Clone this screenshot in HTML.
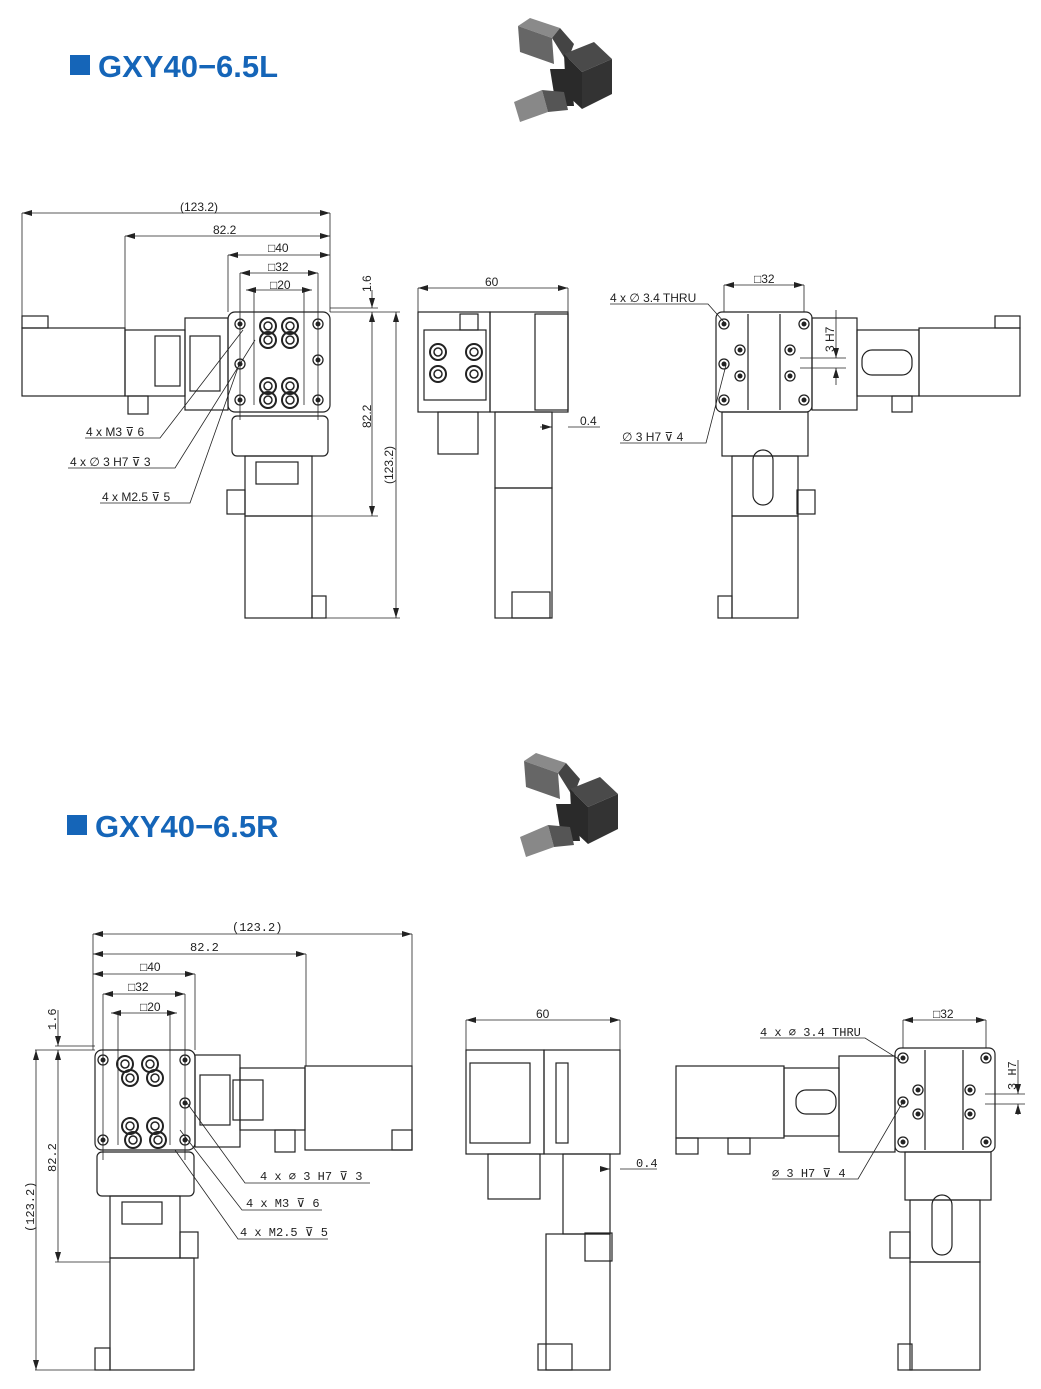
<!DOCTYPE html>
<html><head><meta charset="utf-8"><style>
html,body{margin:0;padding:0;background:#fff}
svg{display:block}
text{font-family:"Liberation Sans","DejaVu Sans",sans-serif;fill:#222}
.t{font-size:12px}
.h{font-size:31px;font-weight:bold;fill:#1565b8}
.m{font-family:"Liberation Mono","DejaVu Sans Mono",monospace;font-size:12px}
</style></head><body>
<svg width="1041" height="1389" viewBox="0 0 1041 1389" xmlns="http://www.w3.org/2000/svg">
<defs>
<marker id="a" markerWidth="10" markerHeight="6" refX="10" refY="3" orient="auto-start-reverse" markerUnits="userSpaceOnUse"><path d="M0,0 L10,3 L0,6z" fill="#222"/></marker>
<g id="hole"><circle r="5" fill="none" stroke="#222" stroke-width="1.3"/><circle r="2.5" fill="#222"/></g>
<g id="big"><circle r="8" fill="none" stroke="#222" stroke-width="2"/><circle r="4" fill="none" stroke="#222" stroke-width="1.5"/></g>
<g id="prod">
<polygon points="6,12 18,4 48,14 40,24" fill="#8a8a8a"/>
<polygon points="6,12 40,24 42,50 8,38" fill="#666"/>
<polygon points="40,24 48,14 62,30 55,48" fill="#444"/>
<polygon points="52,40 82,28 100,45 70,58" fill="#4a4a4a"/>
<polygon points="52,40 70,58 70,95 54,80" fill="#2a2a2a"/>
<polygon points="70,58 100,45 100,80 70,95" fill="#333"/>
<polygon points="38,55 58,55 62,92 44,92" fill="#2a2a2a"/>
<polygon points="2,88 30,76 36,98 8,108" fill="#888"/>
<polygon points="30,76 52,78 56,96 36,98" fill="#555"/>
</g>
</defs>

<!-- headers -->
<rect x="70" y="55" width="20" height="20" fill="#1565b8"/>
<text class="h" x="98" y="77">GXY40−6.5L</text>
<rect x="67" y="815" width="20" height="20" fill="#1565b8"/>
<text class="h" x="95" y="837">GXY40−6.5R</text>
<use href="#prod" x="512" y="14"/>
<use href="#prod" x="518" y="749"/>

<g fill="none" stroke="#222" stroke-width="1.2">
<!-- ===== TOP LEFT VIEW ===== -->
<rect x="22" y="328" width="103" height="68"/><rect x="22" y="316" width="26" height="12"/>
<rect x="125" y="330" width="60" height="66"/><rect x="155" y="336" width="25" height="50"/>
<rect x="128" y="396" width="20" height="18"/>
<rect x="185" y="318" width="43" height="92"/><rect x="190" y="336" width="30" height="55"/>
<rect x="228" y="312" width="102" height="100" rx="7"/>
<rect x="232" y="416" width="96" height="40" rx="5"/>
<rect x="245" y="456" width="67" height="60"/><rect x="256" y="462" width="42" height="22"/>
<rect x="227" y="490" width="18" height="24"/>
<rect x="245" y="516" width="67" height="102"/><rect x="312" y="596" width="14" height="22"/>
<g stroke-width="0.8">
<line x1="22" y1="213" x2="22" y2="318"/><line x1="330" y1="213" x2="330" y2="312"/>
<line x1="22" y1="213" x2="330" y2="213" marker-start="url(#a)" marker-end="url(#a)"/>
<line x1="125" y1="236" x2="125" y2="330"/>
<line x1="125" y1="236" x2="330" y2="236" marker-start="url(#a)" marker-end="url(#a)"/>
<line x1="228" y1="255" x2="330" y2="255" marker-start="url(#a)" marker-end="url(#a)"/>
<line x1="228" y1="255" x2="228" y2="312"/>
<line x1="240" y1="273" x2="318" y2="273" marker-start="url(#a)" marker-end="url(#a)"/>
<line x1="240" y1="273" x2="240" y2="420"/><line x1="318" y1="273" x2="318" y2="420"/>
<line x1="246" y1="290" x2="312" y2="290" marker-start="url(#a)" marker-end="url(#a)"/>
<line x1="254" y1="290" x2="254" y2="405"/><line x1="304" y1="290" x2="304" y2="405"/>
<line x1="330" y1="308" x2="378" y2="308"/><line x1="330" y1="312" x2="400" y2="312"/>
<line x1="372" y1="290" x2="372" y2="308" marker-end="url(#a)"/>
<line x1="372" y1="312" x2="372" y2="516" marker-start="url(#a)" marker-end="url(#a)"/>
<line x1="312" y1="516" x2="378" y2="516"/><line x1="326" y1="618" x2="400" y2="618"/>
<line x1="396" y1="312" x2="396" y2="618" marker-start="url(#a)" marker-end="url(#a)"/>
<polyline points="85,438 160,438 243,330"/>
<polyline points="68,468 175,468 255,340"/>
<polyline points="100,503 190,503 240,362"/>
</g>
<!-- ===== TOP MIDDLE VIEW ===== -->
<rect x="418" y="312" width="72" height="100"/><rect x="424" y="330" width="62" height="70"/>
<rect x="460" y="314" width="18" height="16"/>
<rect x="490" y="312" width="78" height="100"/><rect x="535" y="314" width="33" height="96"/>
<rect x="438" y="412" width="40" height="42"/>
<rect x="495" y="412" width="57" height="76"/><rect x="495" y="488" width="57" height="130"/>
<rect x="512" y="592" width="38" height="26"/>
<g stroke-width="0.8">
<line x1="418" y1="288" x2="418" y2="312"/><line x1="568" y1="288" x2="568" y2="312"/>
<line x1="418" y1="288" x2="568" y2="288" marker-start="url(#a)" marker-end="url(#a)"/>
<line x1="540" y1="427" x2="552" y2="427" marker-end="url(#a)"/><line x1="568" y1="427" x2="600" y2="427"/>
</g>
<!-- ===== TOP RIGHT VIEW ===== -->
<rect x="716" y="312" width="96" height="100" rx="6"/>
<line x1="748" y1="314" x2="748" y2="410"/><line x1="780" y1="314" x2="780" y2="410"/>
<rect x="812" y="318" width="45" height="92"/><rect x="857" y="330" width="62" height="66"/>
<rect x="862" y="350" width="50" height="25" rx="10"/>
<rect x="919" y="328" width="101" height="68"/><rect x="995" y="316" width="25" height="12"/>
<rect x="892" y="396" width="20" height="16"/>
<rect x="722" y="412" width="86" height="44"/><rect x="732" y="456" width="66" height="60"/>
<rect x="753" y="450" width="20" height="55" rx="10"/>
<rect x="797" y="490" width="18" height="24"/>
<rect x="732" y="516" width="66" height="102"/><rect x="718" y="596" width="14" height="22"/>
<g stroke-width="0.8">
<line x1="724" y1="285" x2="804" y2="285" marker-start="url(#a)" marker-end="url(#a)"/>
<line x1="724" y1="285" x2="724" y2="312"/><line x1="804" y1="285" x2="804" y2="312"/>
<polyline points="610,304 708,304 724,322"/>
<polyline points="620,443 706,443 726,365"/>
<line x1="836" y1="310" x2="836" y2="358" marker-end="url(#a)"/>
<line x1="836" y1="368" x2="836" y2="385" marker-start="url(#a)"/>
<line x1="800" y1="358" x2="846" y2="358"/><line x1="800" y1="368" x2="846" y2="368"/>
</g>

<!-- ===== BOTTOM LEFT VIEW ===== -->
<rect x="95" y="1050" width="100" height="100" rx="7"/>
<rect x="195" y="1055" width="45" height="92"/><rect x="200" y="1075" width="30" height="50"/>
<rect x="240" y="1068" width="65" height="62"/><rect x="233" y="1080" width="30" height="40"/>
<rect x="305" y="1066" width="107" height="84"/><rect x="392" y="1130" width="20" height="20"/>
<rect x="275" y="1130" width="20" height="22"/>
<rect x="97" y="1152" width="97" height="44" rx="5"/>
<rect x="110" y="1196" width="70" height="62"/><rect x="122" y="1202" width="40" height="22"/>
<rect x="180" y="1232" width="18" height="26"/>
<rect x="110" y="1258" width="84" height="112"/><rect x="95" y="1348" width="15" height="22"/>
<g stroke-width="0.8">
<line x1="93" y1="934" x2="412" y2="934" marker-start="url(#a)" marker-end="url(#a)"/>
<line x1="93" y1="934" x2="93" y2="1050"/><line x1="412" y1="934" x2="412" y2="1066"/>
<line x1="93" y1="954" x2="306" y2="954" marker-start="url(#a)" marker-end="url(#a)"/>
<line x1="306" y1="954" x2="306" y2="1066"/>
<line x1="93" y1="974" x2="195" y2="974" marker-start="url(#a)" marker-end="url(#a)"/>
<line x1="195" y1="974" x2="195" y2="1050"/>
<line x1="103" y1="994" x2="185" y2="994" marker-start="url(#a)" marker-end="url(#a)"/>
<line x1="103" y1="994" x2="103" y2="1160"/><line x1="185" y1="994" x2="185" y2="1160"/>
<line x1="111" y1="1013" x2="177" y2="1013" marker-start="url(#a)" marker-end="url(#a)"/>
<line x1="118" y1="1013" x2="118" y2="1145"/><line x1="170" y1="1013" x2="170" y2="1145"/>
<line x1="55" y1="1046" x2="95" y2="1046"/><line x1="35" y1="1050" x2="95" y2="1050"/>
<line x1="58" y1="1010" x2="58" y2="1046" marker-end="url(#a)"/>
<line x1="58" y1="1050" x2="58" y2="1262" marker-start="url(#a)" marker-end="url(#a)"/>
<line x1="55" y1="1262" x2="110" y2="1262"/><line x1="35" y1="1370" x2="95" y2="1370"/>
<line x1="36" y1="1050" x2="36" y2="1370" marker-start="url(#a)" marker-end="url(#a)"/>
<polyline points="370,1183 245,1183 187,1103"/>
<polyline points="322,1210 242,1210 180,1130"/>
<polyline points="328,1239 238,1239 175,1150"/>
</g>
<!-- ===== BOTTOM MIDDLE VIEW ===== -->
<rect x="466" y="1050" width="78" height="104"/><rect x="470" y="1063" width="60" height="80"/>
<rect x="544" y="1050" width="76" height="104"/><rect x="556" y="1063" width="12" height="80"/>
<rect x="488" y="1154" width="52" height="45"/>
<rect x="563" y="1154" width="47" height="80"/><rect x="546" y="1234" width="64" height="136"/>
<rect x="585" y="1233" width="27" height="28"/><rect x="538" y="1344" width="34" height="26"/>
<g stroke-width="0.8">
<line x1="466" y1="1020" x2="620" y2="1020" marker-start="url(#a)" marker-end="url(#a)"/>
<line x1="466" y1="1020" x2="466" y2="1050"/><line x1="620" y1="1020" x2="620" y2="1050"/>
<line x1="600" y1="1169" x2="610" y2="1169" marker-end="url(#a)"/><line x1="620" y1="1169" x2="657" y2="1169"/>
</g>
<!-- ===== BOTTOM RIGHT VIEW ===== -->
<rect x="676" y="1066" width="108" height="72"/><rect x="676" y="1138" width="22" height="16"/>
<rect x="784" y="1068" width="55" height="68"/><rect x="728" y="1138" width="22" height="16"/>
<rect x="796" y="1090" width="40" height="24" rx="10"/>
<rect x="839" y="1056" width="56" height="96"/>
<rect x="895" y="1048" width="100" height="104" rx="6"/>
<line x1="925" y1="1050" x2="925" y2="1150"/><line x1="963" y1="1050" x2="963" y2="1150"/>
<rect x="905" y="1152" width="86" height="48"/><rect x="910" y="1200" width="70" height="62"/>
<rect x="932" y="1195" width="20" height="60" rx="10"/>
<rect x="890" y="1232" width="20" height="26"/>
<rect x="910" y="1262" width="70" height="108"/><rect x="898" y="1344" width="14" height="26"/>
<g stroke-width="0.8">
<line x1="903" y1="1020" x2="986" y2="1020" marker-start="url(#a)" marker-end="url(#a)"/>
<line x1="903" y1="1020" x2="903" y2="1048"/><line x1="986" y1="1020" x2="986" y2="1048"/>
<polyline points="760,1038 865,1038 900,1060"/>
<polyline points="772,1179 858,1179 904,1100"/>
<line x1="1018" y1="1060" x2="1018" y2="1094" marker-end="url(#a)"/>
<line x1="1018" y1="1104" x2="1018" y2="1115" marker-start="url(#a)"/>
<line x1="985" y1="1094" x2="1025" y2="1094"/><line x1="985" y1="1104" x2="1025" y2="1104"/>
</g>
</g>

<!-- holes -->
<use href="#hole" x="240" y="324"/><use href="#hole" x="318" y="324"/><use href="#hole" x="240" y="400"/><use href="#hole" x="318" y="400"/>
<use href="#hole" x="240" y="364"/><use href="#hole" x="318" y="360"/>
<use href="#big" x="268" y="326"/><use href="#big" x="290" y="326"/><use href="#big" x="268" y="340"/><use href="#big" x="290" y="340"/>
<use href="#big" x="268" y="386"/><use href="#big" x="290" y="386"/><use href="#big" x="268" y="400"/><use href="#big" x="290" y="400"/>
<use href="#big" x="438" y="352"/><use href="#big" x="438" y="374"/><use href="#big" x="474" y="352"/><use href="#big" x="474" y="374"/>
<use href="#hole" x="724" y="324"/><use href="#hole" x="804" y="324"/><use href="#hole" x="724" y="400"/><use href="#hole" x="804" y="400"/>
<use href="#hole" x="740" y="350"/><use href="#hole" x="740" y="376"/><use href="#hole" x="790" y="350"/><use href="#hole" x="790" y="376"/><use href="#hole" x="724" y="364"/>
<use href="#hole" x="103" y="1060"/><use href="#hole" x="185" y="1060"/><use href="#hole" x="103" y="1140"/><use href="#hole" x="185" y="1140"/><use href="#hole" x="185" y="1103"/>
<use href="#big" x="125" y="1064"/><use href="#big" x="150" y="1064"/><use href="#big" x="130" y="1078"/><use href="#big" x="155" y="1078"/>
<use href="#big" x="130" y="1126"/><use href="#big" x="155" y="1126"/><use href="#big" x="133" y="1140"/><use href="#big" x="158" y="1140"/>
<use href="#hole" x="903" y="1058"/><use href="#hole" x="986" y="1058"/><use href="#hole" x="903" y="1142"/><use href="#hole" x="986" y="1142"/>
<use href="#hole" x="918" y="1090"/><use href="#hole" x="918" y="1114"/><use href="#hole" x="970" y="1090"/><use href="#hole" x="970" y="1114"/><use href="#hole" x="903" y="1102"/>

<!-- labels -->
<text class="t" x="180" y="211">(123.2)</text>
<text class="t" x="213" y="234">82.2</text>
<text class="t" x="268" y="252">□40</text>
<text class="t" x="268" y="271">□32</text>
<text class="t" x="270" y="289">□20</text>
<text class="t" transform="translate(371,292) rotate(-90)">1.6</text>
<text class="t" transform="translate(371,428) rotate(-90)">82.2</text>
<text class="t" transform="translate(393,484) rotate(-90)">(123.2)</text>
<text class="t" x="86" y="436">4 x M3 ⊽ 6</text>
<text class="t" x="70" y="466">4 x ∅ 3 H7 ⊽ 3</text>
<text class="t" x="102" y="501">4 x M2.5 ⊽ 5</text>
<text class="t" x="485" y="286">60</text>
<text class="t" x="580" y="425">0.4</text>
<text class="t" x="754" y="283">□32</text>
<text class="t" x="610" y="302">4 x ∅ 3.4 THRU</text>
<text class="t" x="622" y="441">∅ 3 H7 ⊽ 4</text>
<text class="t" transform="translate(834,352) rotate(-90)">3 H7</text>

<text class="m" x="232" y="931">(123.2)</text>
<text class="m" x="190" y="951">82.2</text>
<text class="t" x="140" y="971">□40</text>
<text class="t" x="128" y="991">□32</text>
<text class="t" x="140" y="1011">□20</text>
<text class="m" transform="translate(56,1030) rotate(-90)">1.6</text>
<text class="m" transform="translate(56,1172) rotate(-90)">82.2</text>
<text class="m" transform="translate(34,1232) rotate(-90)">(123.2)</text>
<text class="m" x="260" y="1180">4 x ∅ 3 H7 ⊽ 3</text>
<text class="m" x="246" y="1207">4 x M3 ⊽ 6</text>
<text class="m" x="240" y="1236">4 x M2.5 ⊽ 5</text>
<text class="t" x="536" y="1018">60</text>
<text class="m" x="636" y="1167">0.4</text>
<text class="t" x="933" y="1018">□32</text>
<text class="m" x="760" y="1036">4 x ∅ 3.4 THRU</text>
<text class="m" x="772" y="1177">∅ 3 H7 ⊽ 4</text>
<text class="m" transform="translate(1016,1090) rotate(-90)">3 H7</text>
</svg>
</body></html>
